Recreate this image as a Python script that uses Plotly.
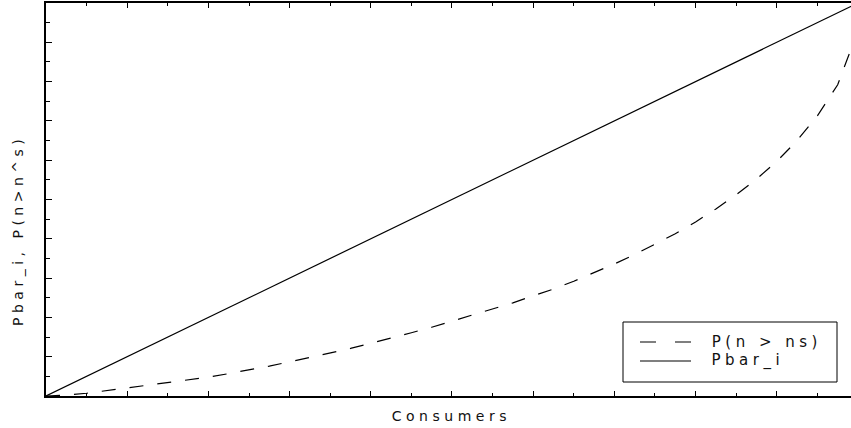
import plotly.graph_objects as go

# Fraction of consumers on the horizontal axis
consumers = [0.000, 0.025, 0.050, 0.075, 0.100, 0.125, 0.150, 0.175, 0.200, 0.225,
             0.250, 0.275, 0.300, 0.325, 0.350, 0.375, 0.400, 0.425, 0.450, 0.475,
             0.500, 0.525, 0.550, 0.575, 0.600, 0.625, 0.650, 0.675, 0.700, 0.725,
             0.750, 0.775, 0.800, 0.825, 0.850, 0.875, 0.900, 0.925, 0.950, 0.975,
             1.000]
# P(n > ns)
p_exceed = [0.000, 0.002, 0.007, 0.014, 0.020, 0.028, 0.035, 0.041, 0.048, 0.057,
            0.066, 0.076, 0.087, 0.098, 0.110, 0.121, 0.134, 0.147, 0.161, 0.175,
            0.190, 0.205, 0.221, 0.237, 0.255, 0.272, 0.292, 0.313, 0.336, 0.360,
            0.386, 0.413, 0.443, 0.476, 0.512, 0.552, 0.597, 0.650, 0.713, 0.792,
            0.930]
# Pbar_i (linear)
pbar_x = [0.0, 1.0]
pbar_y = [0.0, 1.0]

legend_labels = ["P(n > ns)", "Pbar_i"]
x_title = "Consumers"
y_title = "Pbar_i, P(n>n^s)"

W, H = 851, 428
ML, MR, MT, MB = 46, 0, 3, 32
FONT = "DejaVu Sans"
INK = "#111111"

fig = go.Figure()
fig.add_trace(go.Scatter(x=consumers, y=p_exceed, mode="lines", showlegend=False,
                         line=dict(color="black", width=1.2, dash="14px,14px")))
fig.add_trace(go.Scatter(x=pbar_x, y=pbar_y, mode="lines", showlegend=False,
                         line=dict(color="black", width=1.2)))

axis_common = dict(showgrid=False, zeroline=False, showticklabels=False,
                   linecolor="black", linewidth=2, showline=True,
                   ticks="inside", tickcolor="black", tickwidth=1,
                   dtick=0.1, tick0=0)

fig.update_xaxes(range=[0, 0.9914], mirror="allticks", ticklen=5,
                 minor=dict(dtick=0.05, ticks="inside", ticklen=3,
                            tickcolor="black", tickwidth=1),
                 **axis_common)
fig.update_yaxes(range=[0, 1], mirror=False, ticklen=6,
                 minor=dict(dtick=0.05, ticks="inside", ticklen=4,
                            tickcolor="black", tickwidth=1),
                 **axis_common)

# Legend box drawn by hand in paper coordinates
pw = W - ML - MR
ph = H - MT - MB


def px_x(p):
    return (p - ML) / pw


def px_y(p):
    return (H - MB - p) / ph


shapes = [
    dict(type="rect", xref="paper", yref="paper",
         x0=px_x(623), x1=px_x(837), y0=px_y(382), y1=px_y(322),
         line=dict(color="black", width=1), fillcolor="white", layer="above"),
    dict(type="line", xref="paper", yref="paper",
         x0=px_x(640), x1=px_x(691), y0=px_y(342), y1=px_y(342),
         line=dict(color="black", width=1.2, dash="16px,19px"), layer="above"),
    dict(type="line", xref="paper", yref="paper",
         x0=px_x(640), x1=px_x(691), y0=px_y(361), y1=px_y(361),
         line=dict(color="black", width=1.2), layer="above"),
]

annotations = [
    dict(text=legend_labels[0], xref="paper", yref="paper", x=px_x(767), y=px_y(341.5),
         xanchor="center", yanchor="middle", showarrow=False,
         font=dict(family=FONT, size=15, color=INK)),
    dict(text=legend_labels[1], xref="paper", yref="paper", x=px_x(748), y=px_y(360.5),
         xanchor="center", yanchor="middle", showarrow=False,
         font=dict(family=FONT, size=15, color=INK)),
    dict(text=x_title, xref="x", yref="paper", x=0.5, y=px_y(416),
         xanchor="center", yanchor="middle", showarrow=False,
         font=dict(family=FONT, size=14, color=INK)),
    dict(text=y_title, xref="paper", yref="paper", x=px_x(18), y=px_y(231),
         xanchor="center", yanchor="middle", showarrow=False, textangle=-90,
         font=dict(family=FONT, size=14, color=INK)),
]

fig.update_layout(width=W, height=H, margin=dict(l=ML, r=MR, t=MT, b=MB),
                  plot_bgcolor="white", paper_bgcolor="white",
                  shapes=shapes, annotations=annotations, showlegend=False)

# Wide, evenly spaced lettering for the labels
spacing_js = """
var gd = document.getElementById('{plot_id}');
gd.querySelectorAll('.annotation-text').forEach(function (t) {
    t.style.letterSpacing = '4.5px';
});
"""

fig.write_html("out.html", post_script=spacing_js,
               config={"responsive": False, "displayModeBar": False})
